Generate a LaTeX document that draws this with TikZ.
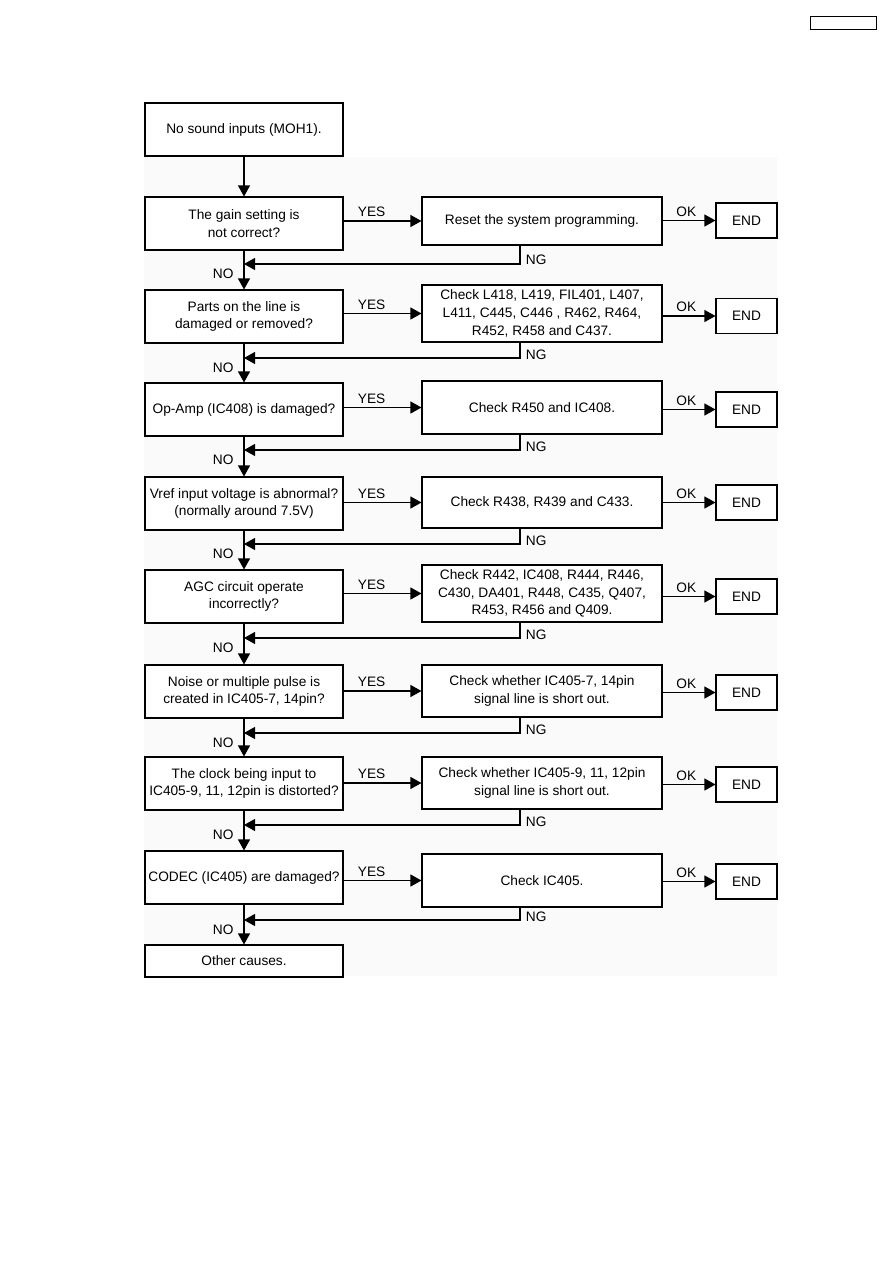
\documentclass[tikz,border=0pt]{standalone}
\usepackage{fontspec}
\setmainfont{Liberation Sans}
\usetikzlibrary{arrows.meta,positioning}

\begin{document}
\begin{tikzpicture}[x=1pt,y=-1pt,
	qbox/.style={draw, line width=1.1pt, fill=white, minimum width=198pt, minimum height=53pt, align=center, inner sep=1pt},
	cbox/.style={draw, line width=1.1pt, fill=white, minimum width=240pt, align=center, inner sep=1pt},
	endbox/.style={draw, line width=1.1pt, fill=white, minimum width=61pt, minimum height=35pt},
	arr/.style={line width=1.1pt, -{Triangle[length=11pt,width=12pt]}},
	font=\fontsize{13.7}{17.8}\selectfont]
		\useasboundingbox (0,0) rectangle (893,1263);
		\fill[black!2] (144,157) rectangle (777,976);
		\node[draw, line width=1pt, minimum width=66pt, minimum height=13pt] (tag) at (843,23.5) {};

		% left column: questions
		\node[qbox] (q0) at (244,129.5) {No sound inputs (MOH1).};
		\node[qbox] (q1) at (244,223.5) {The gain setting is\\not correct?};
		\node[qbox] (q2) at (244,316.5) {Parts on the line is\\damaged or removed?};
		\node[qbox] (q3) at (244,409.5) {Op-Amp (IC408) is damaged?};
		\node[qbox] (q4) at (244,503.5) {Vref input voltage is abnormal?\\(normally around 7.5V)};
		\node[qbox] (q5) at (244,596.5) {AGC circuit operate\\incorrectly?};
		\node[qbox] (q6) at (244,691.5) {Noise or multiple pulse is\\created in IC405-7, 14pin?};
		\node[qbox] (q7) at (244,783.5) {The clock being input to\\IC405-9, 11, 12pin is distorted?};
		\node[qbox] (q8) at (244,877.5) {CODEC (IC405) are damaged?};
		\node[qbox, minimum height=32pt] (q9) at (244,961) {Other causes.};

		% middle column: checks
		\node[cbox, minimum height=48pt] (r1) at (542,221) {Reset the system programming.};
		\node[cbox, minimum height=57pt] (r2) at (542,313.5) {Check L418, L419, FIL401, L407,\\L411, C445, C446 , R462, R464,\\R452, R458 and C437.};
		\node[cbox, minimum height=53pt] (r3) at (542,407.5) {Check R450 and IC408.};
		\node[cbox, minimum height=51pt] (r4) at (542,502.5) {Check R438, R439 and C433.};
		\node[cbox, minimum height=57pt] (r5) at (542,593.5) {Check R442, IC408, R444, R446,\\C430, DA401, R448, C435, Q407,\\R453, R456 and Q409.};
		\node[cbox, minimum height=52pt] (r6) at (542,691) {Check whether IC405-7, 14pin\\signal line is short out.};
		\node[cbox, minimum height=52pt] (r7) at (542,783) {Check whether IC405-9, 11, 12pin\\signal line is short out.};
		\node[cbox, minimum height=53pt] (r8) at (542,880.5) {Check IC405.};

		% right column: END
		\node[endbox] (e1) at (746.5,220.5) {END};
		\node[endbox] (e2) at (746.5,316) {END};
		\node[endbox] (e3) at (746.5,409.5) {END};
		\node[endbox] (e4) at (746.5,502.5) {END};
		\node[endbox] (e5) at (746.5,596.5) {END};
		\node[endbox] (e6) at (746.5,692.5) {END};
		\node[endbox] (e7) at (746.5,784.5) {END};
		\node[endbox] (e8) at (746.5,881.5) {END};

		% NG return points on the main line
		\coordinate (j1) at (244,264);
		\coordinate (j2) at (244,358);
		\coordinate (j3) at (244,450);
		\coordinate (j4) at (244,544);
		\coordinate (j5) at (244,638);
		\coordinate (j6) at (244,733);
		\coordinate (j7) at (244,825);
		\coordinate (j8) at (244,920);

		\draw[arr] (q0) -- (q1);
		\foreach \i/\n in {1/2,2/3,3/4,4/5,5/6,6/7,7/8,8/9} {
			\draw[arr] (q\i) -- (q\n);
			\draw[arr] (q\i.east |- r\i.west) -- node[pos=0.36, above] {YES} (r\i.west);
			\draw[arr] (r\i.east |- e\i.west) -- node[pos=0.45, above] {OK} (e\i.west);
			\draw[arr] ([xshift=-22pt]r\i.south) |- node[pos=0.38, right, xshift=2pt] {NG} (j\i);
			\node[below left, xshift=-7pt, yshift=-1pt] at (j\i) {NO};
		}
	\end{tikzpicture}
\end{document}
